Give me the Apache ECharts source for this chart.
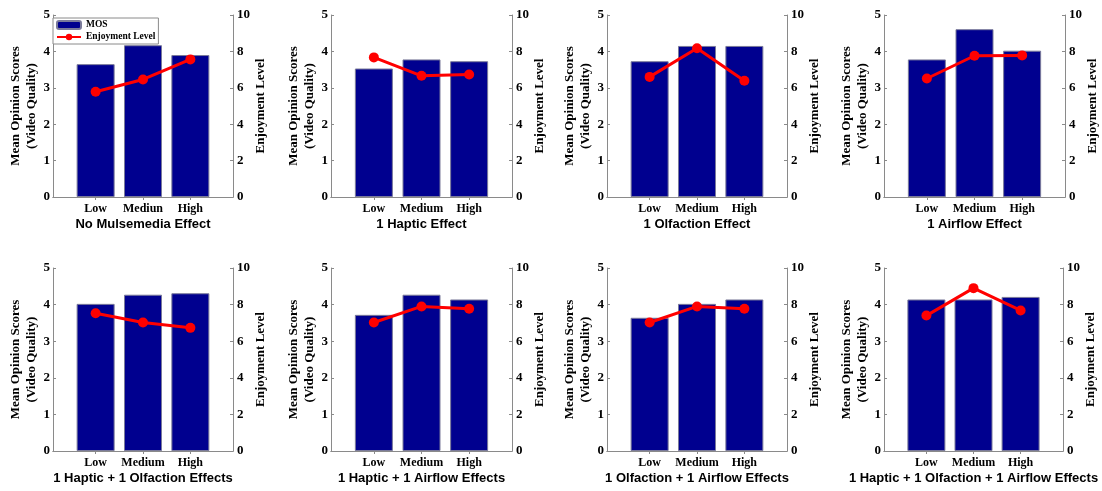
<!DOCTYPE html>
<html>
<head>
<meta charset="utf-8">
<script src="https://cdn.jsdelivr.net/npm/echarts@6/dist/echarts.min.js"></script>
<style>
  * { margin: 0; padding: 0; }
  body { background: #fff; }
</style>
</head>
<body>
<div id="main" style="width: 1102px; height: 491px;"></div>
<script>
  // categories (first panel has the "Mediun" typo of the original)
  const categories = ['Low', 'Medium', 'High']
  const categoriesFirst = ['Low', 'Mediun', 'High']
  const effectNames = [
    'No Mulsemedia Effect',
    '1 Haptic Effect',
    '1 Olfaction Effect',
    '1 Airflow Effect',
    '1 Haptic + 1 Olfaction Effects',
    '1 Haptic + 1 Airflow Effects',
    '1 Olfaction + 1 Airflow Effects',
    '1 Haptic + 1 Olfaction + 1 Airflow Effects'
  ]
  // MOS (video quality), Low / Medium / High
  const mosValues = [
    [3.65, 4.17, 3.90],
    [3.53, 3.78, 3.73],
    [3.73, 4.15, 4.15],
    [3.78, 4.61, 4.02],
    [4.02, 4.27, 4.31],
    [3.72, 4.27, 4.14],
    [3.64, 4.02, 4.14],
    [4.14, 4.14, 4.21]
  ]
  // enjoyment level, Low / Medium / High
  const enjoymentValues = [
    [5.78, 6.46, 7.56],
    [7.67, 6.66, 6.73],
    [6.60, 8.17, 6.39],
    [6.51, 7.76, 7.78],
    [7.53, 7.02, 6.73],
    [7.02, 7.90, 7.77],
    [7.02, 7.90, 7.77],
    [7.40, 8.90, 7.68]
  ]
  const mosTicks = [0, 5, 1]      // min, max, interval
  const enjoyTicks = [0, 10, 2]

  // grid boxes (left, top, width, height)
  const boxes = [
    [53, 15, 180, 182], [331, 15, 181, 182], [607, 15, 180, 182], [884, 15, 181, 182],
    [53, 268, 180, 183], [331, 268, 181, 183], [607, 268, 180, 183], [884, 268, 179, 183]
  ]

  const serif = 'Liberation Serif'
  const sans = 'Liberation Sans'
  const lineGrey = '#8a8a8a'

  let grids = [], xAxes = [], yAxes = [], series = []
  boxes.forEach(function (b, i) {
    grids.push({ left: b[0], top: b[1], width: b[2], height: b[3], containLabel: false })
    let cats = i === 0 ? categoriesFirst : categories
    xAxes.push({
      type: 'value', gridIndex: i, min: 0.1, max: 3.9, position: 'bottom',
      splitLine: { show: false },
      axisLine: { show: true, lineStyle: { color: lineGrey, width: 1 } },
      axisTick: { show: true, inside: true, length: 3, customValues: [1, 2, 3], lineStyle: { color: lineGrey } },
      axisLabel: {
        show: true, customValues: [1, 2, 3], margin: 6,
        color: '#000', fontFamily: serif, fontWeight: 'bold', fontSize: 12,
        formatter: function (v) { return cats[Math.round(v) - 1] }
      },
      name: effectNames[i], nameLocation: 'middle', nameGap: 21,
      nameTextStyle: { color: '#000', fontFamily: sans, fontWeight: 'bold', fontSize: 13 }
    })
    xAxes.push({
      type: 'value', gridIndex: i, min: 0.1, max: 3.9, position: 'top',
      splitLine: { show: false },
      axisLine: { show: true, lineStyle: { color: lineGrey, width: 1 } },
      axisTick: { show: true, inside: true, length: 3, customValues: [1, 2, 3], lineStyle: { color: lineGrey } },
      axisLabel: { show: false }
    })
    yAxes.push({
      type: 'value', gridIndex: i, position: 'left',
      min: mosTicks[0], max: mosTicks[1], interval: mosTicks[2],
      splitLine: { show: false },
      axisLine: { show: true, lineStyle: { color: lineGrey, width: 1 } },
      axisTick: { show: true, inside: true, length: 3, lineStyle: { color: lineGrey } },
      axisLabel: { margin: 3, color: '#000', fontFamily: serif, fontWeight: 'bold', fontSize: 13 },
      name: 'Mean Opinion Scores\n(Video Quality)', nameLocation: 'middle', nameRotate: 90, nameGap: 12,
      nameTextStyle: { color: '#000', fontFamily: serif, fontWeight: 'bold', fontSize: 13, lineHeight: 16 }
    })
    yAxes.push({
      type: 'value', gridIndex: i, position: 'right',
      min: enjoyTicks[0], max: enjoyTicks[1], interval: enjoyTicks[2],
      splitLine: { show: false },
      axisLine: { show: true, lineStyle: { color: lineGrey, width: 1 } },
      axisTick: { show: true, inside: true, length: 3, lineStyle: { color: lineGrey } },
      axisLabel: { margin: 4, color: '#000', fontFamily: serif, fontWeight: 'bold', fontSize: 13 },
      name: 'Enjoyment Level', nameLocation: 'middle', nameRotate: 90, nameGap: 21,
      nameTextStyle: { color: '#000', fontFamily: serif, fontWeight: 'bold', fontSize: 13 }
    })
    series.push({
      name: 'MOS', type: 'bar', xAxisIndex: 2 * i, yAxisIndex: 2 * i,
      barWidth: 38,
      itemStyle: { color: '#00008f', borderColor: '#7a7a9a', borderWidth: 1 },
      data: mosValues[i].map(function (v, k) { return [k + 1, v] })
    })
    series.push({
      name: 'Enjoyment Level', type: 'line', xAxisIndex: 2 * i, yAxisIndex: 2 * i + 1,
      symbol: 'circle', symbolSize: 10,
      lineStyle: { color: '#ff0000', width: 3 },
      itemStyle: { color: '#ff0000' },
      data: enjoymentValues[i].map(function (v, k) { return [k + 1, v] })
    })
  })

  let chart = echarts.init(document.getElementById('main'))
  chart.setOption({
    animation: false,
    backgroundColor: '#fff',
    legend: {
      left: 53, top: 18, orient: 'vertical',
      data: ['MOS', 'Enjoyment Level'],
      backgroundColor: '#fff', borderColor: lineGrey, borderWidth: 1,
      padding: [2, 3], itemGap: 2, itemWidth: 24, itemHeight: 8,
      textStyle: { color: '#000', fontFamily: serif, fontWeight: 'bold', fontSize: 9.5 }
    },
    grid: grids,
    xAxis: xAxes,
    yAxis: yAxes,
    series: series
  })
</script>
</body>
</html>
